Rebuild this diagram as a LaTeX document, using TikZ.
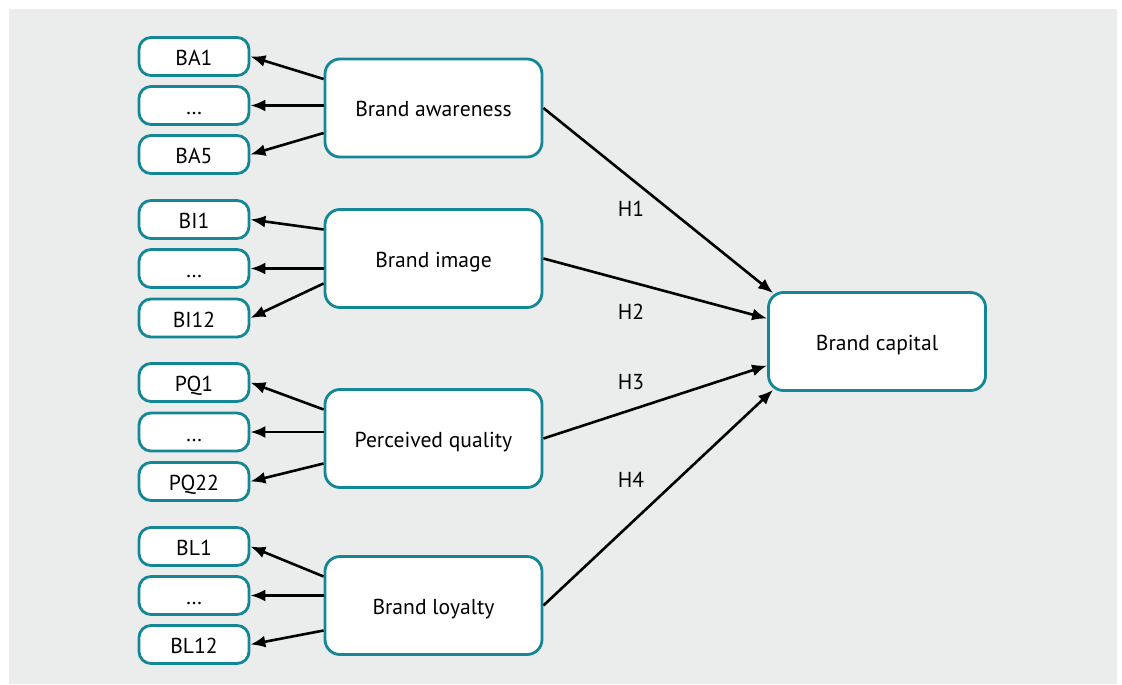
\documentclass[tikz,border=0pt]{standalone}
\usepackage{fontspec}
\setmainfont{PT Sans}
\usepackage{tikz}
\usetikzlibrary{arrows.meta, positioning, calc}
\usepackage{xcolor}
\definecolor{panelgray}{RGB}{235,237,237}
\definecolor{boxteal}{RGB}{20,135,150}

\begin{document}
\begin{tikzpicture}[
    x=0.5pt, y=-0.5pt,
    font=\fontsize{10.8}{12}\selectfont,
    item/.style={rectangle, rounded corners=6pt, draw=boxteal, line width=1.4pt, fill=white, minimum width=55pt, minimum height=19pt, inner sep=0pt, text height=1.8ex, text depth=0pt},
    construct/.style={rectangle, rounded corners=7.5pt, draw=boxteal, line width=1.4pt, fill=white, minimum width=108.5pt, minimum height=49pt, text height=1.8ex, text depth=0pt},
    arrow/.style={-{Latex[length=7.5pt,width=6pt]}, line width=1.3pt}
]

% Background panel
\useasboundingbox (0,0) rectangle (1122,684);
\fill[panelgray] (9,9) rectangle (1117,684);

% Left side - constructs
\node[construct] (ba) at (433.5,108) {Brand awareness};
\node[construct] (bi) at (433.5,258.5) {Brand image};
\node[construct] (pq) at (433.5,438.5) {Perceived quality};
\node[construct] (bl) at (433.5,605.5) {Brand loyalty};

% Right side - outcome
\node[construct] (cap) at (877,341.5) {Brand capital};

% Indicators
\node[item] (ba1) at (194,56.5) {BA1};
\node[item] (badots) at (194,105.5) {…};
\node[item] (ba5) at (194,154.5) {BA5};

\node[item] (bi1) at (194,219.5) {BI1};
\node[item] (bidots) at (194,268.5) {…};
\node[item] (bi12) at (194,318) {BI12};

\node[item] (pq1) at (194,382.5) {PQ1};
\node[item] (pqdots) at (194,432) {…};
\node[item] (pq22) at (194,481.5) {PQ22};

\node[item] (bl1) at (194,546.5) {BL1};
\node[item] (bldots) at (194,595.5) {\ldots};
\node[item] (bl12) at (194,644.5) {BL12};

% Arrows to indicators
\foreach \c/\a/\m/\b in {ba/ba1/badots/ba5, bi/bi1/bidots/bi12, pq/pq1/pqdots/pq22, bl/bl1/bldots/bl12} {
    \draw[arrow] ($(\c.west)+(0,-29)$) -- (\a.east);
    \draw[arrow] (\c.west |- \m.east) -- (\m.east);
    \draw[arrow] ($(\c.west)+(0,25)$) -- (\b.east);
}

% Hypotheses
\draw[arrow] (ba.east) -- ($(cap.north west)+(6,2)$);
\draw[arrow] (bi.east) -- ($(cap.west)+(0,-23)$);
\draw[arrow] (pq.east) -- ($(cap.west)+(0,24)$);
\draw[arrow] (bl.east) -- ($(cap.south west)+(6,-2)$);

% Labels
\node (h1) at (631,209) {H1};
\node (h2) at (631,312) {H2};
\node (h3) at (631,382) {H3};
\node (h4) at (631,480) {H4};

\end{tikzpicture}
\end{document}
